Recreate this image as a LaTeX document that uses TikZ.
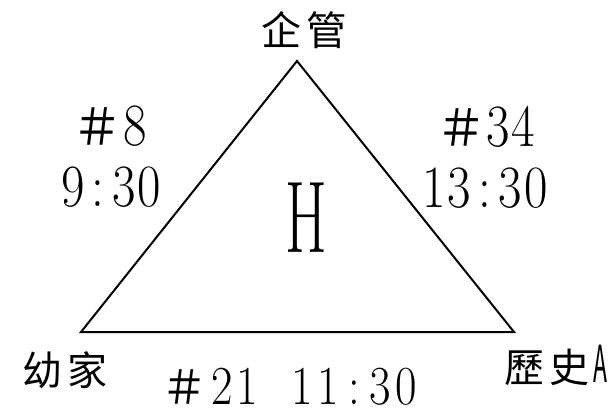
\documentclass[tikz,border=0pt]{standalone}
\usepackage{fontspec}
\usepackage{graphicx}
\newfontfamily\cjk{Noto Sans CJK TC}
\newcommand\dg[2]{\makebox[#1][c]{\scalebox{0.85}[1]{#2}}}
\newcommand\ck[1]{\makebox[45pt][c]{#1}}
\tikzset{
  lbl/.style={inner sep=0pt, anchor=center},
  num/.style={lbl, font=\fontsize{60}{60}\selectfont},
  numsm/.style={lbl, font=\fontsize{55}{55}\selectfont},
  cjklbl/.style={lbl, font=\cjk\fontsize{40}{40}\selectfont},
  edge/.style={line width=2pt, line join=miter}
}
\begin{document}
\begin{tikzpicture}[x=1pt,y=-1pt]
\useasboundingbox (0,0) rectangle (616,415);
\coordinate (top) at (297,61);
\coordinate (bl) at (81,332);
\coordinate (br) at (514,332);
\draw[edge] (top) -- (bl) -- (br) -- cycle;
\node[cjklbl] (tl) at (304,30) {\ck{企}\ck{管}};
\node[cjklbl] (ll) at (65,370) {\ck{幼}\ck{家}};
\node[cjklbl] (rl) at (555,365) {\ck{歷}\ck{史}\makebox[16pt][c]{\fontsize{51}{51}\selectfont\scalebox{0.45}[1]{A}}};
\node[num] (n8) at (110,126) {\makebox[50pt][c]{\cjk\fontsize{50}{50}\selectfont ＃}\dg{25pt}{8}};
\node[num] (t8) at (111,187) {\dg{25.5pt}{9}\dg{25.5pt}{:}\dg{25.5pt}{3}\dg{25.5pt}{0}};
\node[num] (n34) at (486,127) {\makebox[50pt][c]{\cjk\fontsize{50}{50}\selectfont ＃}\dg{25pt}{3}\dg{25pt}{4}};
\node[num] (t34) at (485,188) {\dg{25.5pt}{1}\dg{25.5pt}{3}\dg{25.5pt}{:}\dg{25.5pt}{3}\dg{25.5pt}{0}};
\node[lbl, font=\fontsize{102}{102}\selectfont] (h) at (306,218) {\scalebox{0.59}[1]{H}};
\node[numsm] (b) at (289.5,387) {\makebox[50pt][c]{\cjk\fontsize{46}{46}\selectfont ＃}\dg{25pt}{2}\dg{25pt}{1}\hspace{29.5pt}\dg{26pt}{1}\dg{26pt}{1}\dg{26pt}{:}\dg{26pt}{3}\dg{26pt}{0}};
\end{tikzpicture}
\end{document}
